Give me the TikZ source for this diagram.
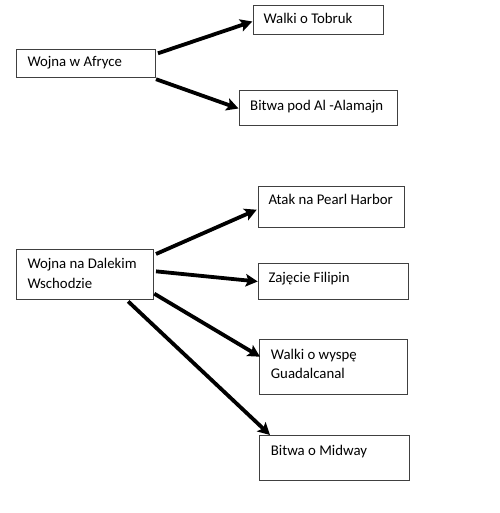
\documentclass[tikz,border=0pt]{standalone}
\usepackage{fontspec}
\setmainfont{Carlito}
\usetikzlibrary{arrows.meta,calc}
\begin{document}
\begin{tikzpicture}[x=1pt,y=-1pt,
  box/.style={draw=black!75,line width=1pt,inner sep=0pt,anchor=north west},
  lbl/.style={anchor=base west,inner sep=0pt,font=\fontsize{14.8}{19.7}\selectfont,align=left,text=black},
  arr/.style={line width=3.8pt,-{Stealth[length=12pt,width=12.5pt,inset=2.5pt]}}]
\useasboundingbox[fill=white] (0,0) rectangle (499,513);
% boxes
\node[box,minimum width=139pt,minimum height=27.4pt] (A) at (16,49.3) {};
\node[box,minimum width=130pt,minimum height=29pt] (B) at (253.3,5) {};
\node[box,minimum width=157.7pt,minimum height=35pt] (C) at (239,90) {};
\node[box,minimum width=136.7pt,minimum height=49.7pt] (D) at (16,249.3) {};
\node[box,minimum width=146.6pt,minimum height=41pt] (E) at (257.7,185.7) {};
\node[box,minimum width=150pt,minimum height=36pt] (F) at (257.7,263.3) {};
\node[box,minimum width=147.7pt,minimum height=55pt] (G) at (259.3,339.3) {};
\node[box,minimum width=149.4pt,minimum height=45pt] (H) at (259.3,435) {};
% labels
\node[lbl] (tA) at (27.3,66.7) {Wojna w Afryce};
\node[lbl] (tB) at (263.3,23.3) {Walki o Tobruk};
\node[lbl] (tC) at (250,111) {Bitwa pod Al -Alamajn};
\node[lbl] (tD1) at (27.3,268.7) {Wojna na Dalekim};
\node[lbl] (tD2) at (27.3,288.5) {Wschodzie};
\node[lbl] (tE) at (268.3,204) {Atak na Pearl Harbor};
\node[lbl] (tF) at (268.3,282.3) {Zajęcie Filipin};
\node[lbl] (tG1) at (270.7,359) {Walki o wyspę};
\node[lbl] (tG2) at (270.7,378.7) {Guadalcanal};
\node[lbl] (tH) at (270.7,455) {Bitwa o Midway};
% arrows
\draw[arr] ([shift={(2,4)}]A.north east) -- ([shift={(-1,1.5)}]B.west);
\draw[arr] ([shift={(0,1.5)}]A.south east) -- ([shift={(-0.5,0.5)}]C.west);
\draw[arr] ([shift={(2.3,4.7)}]D.north east) -- ([shift={(-1,3)}]E.west);
\draw[arr] ([shift={(2.3,-3.3)}]D.east) -- ([shift={(0,-0.3)}]F.west);
\draw[arr] ([shift={(0.6,-6.3)}]D.south east) -- ([shift={(0.7,17.4)}]G.north west);
\draw[arr] ([shift={(43.3,1.4)}]D.south) -- ([shift={(10.7,0)}]H.north west);
\end{tikzpicture}
\end{document}
